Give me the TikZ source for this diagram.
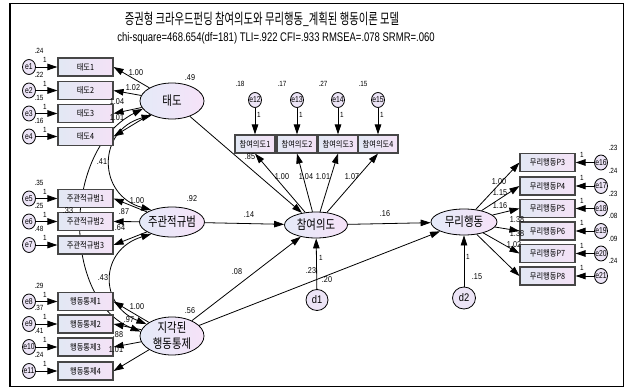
\documentclass[tikz,border=0pt]{standalone}
\usepackage{fontspec}
\setmainfont{Liberation Sans}
\newfontfamily\kr{Noto Sans CJK KR}
\usetikzlibrary{arrows.meta,shapes.geometric}
\pgfdeclarelayer{bg}
\pgfsetlayers{bg,main}
\newbox\sqb
\definecolor{boxL}{RGB}{226,232,244}
\definecolor{boxR}{RGB}{244,226,246}
\definecolor{latL}{RGB}{228,234,248}
\definecolor{latR}{RGB}{246,226,248}
\definecolor{errF}{RGB}{236,228,246}
\definecolor{boxD}{RGB}{70,70,70}
\tikzset{
 cond/.style={execute at begin node={\setbox\sqb\hbox\bgroup}, execute at end node={\egroup\scalebox{#1}[1]{\box\sqb}}},
 cond/.default=0.8,
 box/.style={rectangle, draw=boxD, line width=1.1pt, minimum width=55pt, minimum height=18pt, inner sep=0pt, left color=boxL, right color=boxR, font=\kr\fontsize{8.5}{9}\selectfont, cond=0.85},
 sbox/.style={box, minimum width=40pt},
 lat/.style={ellipse, draw, line width=0.8pt, inner sep=0pt, left color=latL, right color=latR},
 lattxt/.style={font=\kr\fontsize{13}{14}\selectfont, cond=0.8, inner sep=0pt},
 err/.style={ellipse, draw, line width=0.8pt, minimum width=13pt, minimum height=15pt, inner sep=0pt, fill=errF},
 errtxt/.style={font=\fontsize{8.5}{9}\selectfont, cond=0.8, inner sep=0pt},
 dist/.style={err, minimum width=22pt, minimum height=21pt},
 disttxt/.style={font=\fontsize{11}{12}\selectfont, cond=0.85, inner sep=0pt},
 num/.style={font=\fontsize{8.5}{9}\selectfont, cond=0.85, inner sep=0pt},
 var/.style={font=\fontsize{7.5}{8}\selectfont, cond=0.85, inner sep=0pt},
 one/.style={font=\fontsize{7.5}{8}\selectfont, cond=0.85, inner sep=0pt},
 arr/.style={-{Triangle[length=10pt,width=6.5pt]}, line width=0.8pt},
 cov/.style={{Triangle[length=10pt,width=6.5pt]}-{Triangle[length=10pt,width=6.5pt]}, line width=0.8pt},
}
\begin{document}
\begin{tikzpicture}[x=1pt,y=-1pt]
\useasboundingbox (0,0) rectangle (626,390);
\draw[line width=1.2pt] (10,3.5) rectangle (623.5,386.5);
\node[cond=0.69, font=\kr\fontsize{15}{17}\selectfont] (title) at (262,19) {증권형 크라우드펀딩 참여의도와 무리행동\_계획된 행동이론 모델};
\node[cond=0.76, font=\fontsize{12.5}{14}\selectfont] (sub) at (276,38) {chi-square=468.654(df=181) TLI=.922 CFI=.933 RMSEA=.078 SRMR=.060};

% latent variables
\node[lat, minimum width=64pt, minimum height=36pt] (taedo) at (172,101) {};
\node[lattxt] (taedoT) at (taedo) {태도};
\node[lat, minimum width=65pt, minimum height=30pt] (jugwan) at (172,222) {};
\node[lattxt] (jugwanT) at (jugwan) {주관적규범};
\node[lat, minimum width=64pt, minimum height=38pt] (jigak) at (172,336) {};
\node[lattxt] (jigakT1) at (172,328) {지각된};
\node[lattxt] (jigakT2) at (172,344) {행동통제};
\node[lat, minimum width=63pt, minimum height=26pt] (cham) at (316,225) {};
\node[lattxt] (chamT) at (cham) {참여의도};
\node[lat, minimum width=66pt, minimum height=26pt] (muri) at (464,222) {};
\node[lattxt] (muriT) at (muri) {무리행동};

% attitude indicators
\foreach \i/\y/\va in {1/67/.24,2/90.5/.22,3/113.5/.15,4/136.5/.16}{
 \node[box] (t\i) at (85.5,\y) {태도\i};
 \node[err] (e\i) at (29,\y) {};
 \node[errtxt] (le\i) at (e\i) {e\i};
 \node[var] (ve\i) at (39,\y-16) {\va};
 \node[one] (oe\i) at (45,\y-7) {1};
 \draw[arr] (e\i) -- (t\i.west);
 \draw[arr] (taedo) -- (t\i.east);
}
% subjective norm indicators
\foreach \i/\k/\y/\va in {1/5/198.5/.35,2/6/221.5/.25,3/7/245/.48}{
 \node[box] (j\i) at (85.5,\y) {주관적규범\i};
 \node[err] (e\k) at (29,\y) {};
 \node[errtxt] (le\k) at (e\k) {e\k};
 \node[var] (ve\k) at (39,\y-16) {\va};
 \node[one] (oe\k) at (45,\y-7) {1};
 \draw[arr] (e\k) -- (j\i.west);
 \draw[arr] (jugwan) -- (j\i.east);
}
% perceived behavioural control indicators
\foreach \i/\k/\y/\va in {1/8/301.5/.29,2/9/324/.37,3/10/347/.41,4/11/371/.24}{
 \node[box] (h\i) at (85.5,\y) {행동통제\i};
 \node[err] (e\k) at (29,\y) {};
 \node[errtxt] (le\k) at (e\k) {e\k};
 \node[var] (ve\k) at (39,\y-16) {\va};
 \node[one] (oe\k) at (45,\y-7) {1};
 \draw[arr] (e\k) -- (h\i.west);
 \draw[arr] (jigak) -- (h\i.east);
}
% intention indicators
\foreach \i/\k/\x/\va in {1/12/255/.18,2/13/297/.17,3/14/338/.27,4/15/378/.15}{
 \node[sbox] (c\i) at (\x,144) {참여의도\i};
 \node[err] (e\k) at (\x,100) {};
 \node[errtxt] (le\k) at (e\k) {e\k};
 \node[var] (ve\k) at (\x-15,84) {\va};
 \node[one] (oe\k) at (\x+4,115) {1};
 \draw[arr] (e\k) -- (c\i.north);
 \draw[arr] (cham) -- (c\i.south);
}
% herding indicators
\foreach \i/\k/\y/\va in {3/16/162.5/.23,4/17/186/.24,5/18/208.5/.23,6/19/231/.08,7/20/253.5/.09,8/21/276/.24}{
 \node[box] (m\i) at (547.5,\y) {무리행동P\i};
 \node[err] (e\k) at (601,\y) {};
 \node[errtxt] (le\k) at (e\k) {e\k};
 \node[var] (ve\k) at (613,\y-15) {\va};
 \node[one] (oe\k) at (582,\y-8) {1};
 \draw[arr] (e\k) -- (m\i.east);
 \draw[arr] (muri) -- (m\i.west);
}
% disturbances
\node[dist] (d1) at (317,300) {};
\node[disttxt] (ld1) at (d1) {d1};
\node[dist, minimum width=23pt, minimum height=22pt] (d2) at (464,298) {};
\node[disttxt] (ld2) at (d2) {d2};
\draw[arr] (d1) -- (cham);
\draw[arr] (d2) -- (muri);

% structural paths
\draw[arr] (taedo) -- (cham);
\draw[arr] (jugwan) -- (cham);
\draw[arr] (jigak) -- (cham);
\draw[arr] (jigak) -- (muri);
\draw[arr] (cham) -- (muri);

% covariances
\begin{pgfonlayer}{bg}
\draw[cov] (taedo.215) .. controls (97,130) and (97,195) .. (jugwan.150);
\draw[cov] (jugwan.210) .. controls (99,250) and (99,305) .. (jigak.155);
\draw[cov] (taedo.195) .. controls (62,150) and (62,300) .. (jigak.172);
\end{pgfonlayer}

% latent variances
\node[num] (vtaedo) at (190,78) {.49};
\node[num] (vjugwan) at (192,199) {.92};
\node[num] (vjigak) at (190,311) {.56};
% loadings
\node[num] (lt1) at (136,73) {1.00};
\node[num] (lt2) at (133,88) {1.02};
\node[num] (lt3) at (117,102) {1.04};
\node[num] (lt4) at (117,118) {1.01};
\node[num] (lj1) at (137,201) {1.00};
\node[num] (lj2) at (124,212) {.87};
\node[num] (lj3) at (120,228) {.64};
\node[num] (lh1) at (137,307) {1.00};
\node[num] (lh2) at (129,320) {.97};
\node[num] (lh3) at (118,335) {.88};
\node[num] (lh4) at (116,350) {1.01};
\node[num] (lc1) at (282,177) {1.00};
\node[num] (lc2) at (306,177) {1.04};
\node[num] (lc3) at (323,177) {1.01};
\node[num] (lc4) at (352,177) {1.07};
\node[num] (lm3) at (499,182) {1.00};
\node[num] (lm4) at (500,193) {1.15};
\node[num] (lm5) at (500,206) {1.16};
\node[num] (lm6) at (517,220) {1.38};
\node[num] (lm7) at (517,234) {1.38};
\node[num] (lm8) at (514,245) {1.02};
% path coefficients
\node[num] (ptc) at (250,157) {.85};
\node[num] (pjc) at (249,215) {.14};
\node[num] (pcm) at (385,214) {.16};
\node[num] (phc) at (237,272) {.08};
\node[num] (phm) at (327,280) {.20};
\node[one] (od1) at (321,258) {1};
\node[num] (vd1) at (311,271) {.23};
\node[one] (od2) at (468,257) {1};
\node[num] (vd2) at (477,277) {.15};
% covariance values
\node[num] (ctj) at (102,162) {.41};
\node[num] (cth) at (68,211) {.33};
\node[num] (cjh) at (103,278) {.43};
\end{tikzpicture}
\end{document}
